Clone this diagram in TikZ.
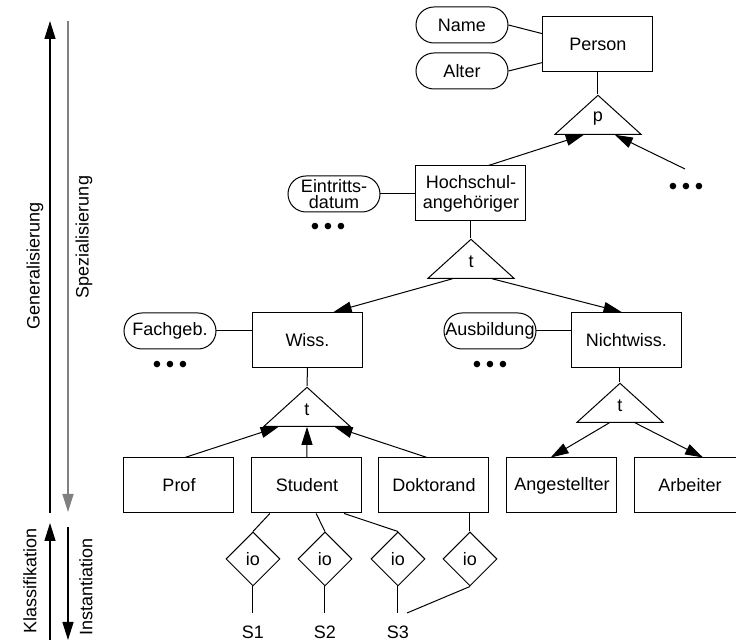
\documentclass[tikz,border=0pt]{standalone}
\usepackage{fontspec}
\setmainfont{Liberation Sans}
\usetikzlibrary{arrows.meta,calc,shapes.geometric}
\tikzset{
  >={Triangle[length=9pt,width=5.5pt]},
  every node/.style={font=\fontsize{9}{10}\selectfont},
  entity/.style={draw,line width=0.5pt,minimum width=55pt,minimum height=27.5pt,align=center,inner sep=1pt},
  attr/.style={draw,line width=0.5pt,rounded corners=9pt,minimum width=46pt,minimum height=18pt,align=center,inner sep=0pt},
  isa/.style={draw,line width=0.5pt,isosceles triangle,shape border rotate=90,isosceles triangle stretches,minimum width=43pt,minimum height=19.5pt,inner sep=0pt,anchor=apex},
  inst/.style={draw,line width=0.5pt,diamond,minimum width=27pt,minimum height=27pt,inner sep=0pt},
  more/.style={inner sep=0pt,font=\fontsize{12}{12}\selectfont},
  obj/.style={inner sep=1pt},
  link/.style={line width=0.5pt},
  arrow/.style={->,line width=0.5pt},
  axis/.style={->,line width=0.7pt}
}
\newcommand{\moredots}{•\hspace{2.3pt}•\hspace{2.3pt}•}
\begin{document}
\begin{tikzpicture}[x=0.5pt,y=-0.5pt]
  \useasboundingbox (0,0) rectangle (736,640);

  \node[entity] (person) at (598,44.5) {Person};
  \node[attr] (name) at (462,25) {Name};
  \node[attr] (alter) at (462,71) {Alter};
  \node[isa] (p) at (598,94) {p};
  \draw[link] (name.east) -- (person.169);
  \draw[link] (alter.east) -- (person.198);
  \draw[link] (person.south) -- (p.apex);

  \node[entity] (hsa) at (471,193.5) {Hochschul-\\angehöriger};
  \node[attr,font=\fontsize{9}{8}\selectfont] (eintritt) at (334,194) {Eintritts-\\datum};
  \node[more] (dotsA) at (328,229) {\moredots};
  \node[more] (dotsB) at (686,189) {\moredots};
  \coordinate (other) at (685,169);
  \draw[arrow] (hsa.58) -- ($(p.left corner)!0.34!(p.right corner)$);
  \draw[arrow] (other) -- ($(p.left corner)!0.69!(p.right corner)$);
  \draw[link] (eintritt.east) -- (hsa.west |- eintritt.east);

  \node[isa] (t1) at (471,238) {t};
  \draw[link] (hsa.south) -- (t1.apex);
  \node[entity] (wiss) at (307.5,340) {Wiss.};
  \node[entity] (nwiss) at (626.5,340) {Nichtwiss.};
  \draw[arrow] ($(t1.left corner)!0.29!(t1.right corner)$) -- (wiss.47);
  \draw[arrow] ($(t1.left corner)!0.74!(t1.right corner)$) -- (nwiss.100);
  \node[attr] (fach) at (170,331) {Fachgeb.};
  \node[attr] (ausb) at (490,331) {Ausbildung};
  \node[more] (dotsC) at (170,367) {\moredots};
  \node[more] (dotsD) at (490,367) {\moredots};
  \draw[link] (fach.east) -- (wiss.west |- fach.east);
  \draw[link] (ausb.east) -- (nwiss.west |- ausb.east);

  \node[isa] (t2) at (307,386) {t};
  \node[isa] (t3) at (620,382) {t};
  \draw[link] (wiss.south) -- (t2.apex);
  \draw[link] (nwiss.south -| t3.apex) -- (t3.apex);
  \node[entity] (prof) at (179,485.5) {Prof};
  \node[entity] (stud) at (307,485.5) {Student};
  \node[entity] (dokt) at (434,485.5) {Doktorand};
  \node[entity] (angest) at (562,485.5) {Angestellter};
  \node[entity] (arb) at (690,485.5) {Arbeiter};
  \draw[arrow] (prof.78) -- ($(t2.left corner)!0.18!(t2.right corner)$);
  \draw[arrow] (stud.north) -- ($(t2.left corner)!0.5!(t2.right corner)$);
  \draw[arrow] (dokt.104) -- ($(t2.left corner)!0.81!(t2.right corner)$);
  \draw[arrow] ($(t3.left corner)!0.38!(t3.right corner)$) -- (angest.112);
  \draw[arrow] ($(t3.left corner)!0.67!(t3.right corner)$) -- (arb.65);

  \node[inst] (io1) at (253,559) {io};
  \node[inst] (io2) at (325,559) {io};
  \node[inst] (io3) at (398,559) {io};
  \node[inst] (io4) at (470,559) {io};
  \draw[link] (stud.217) -- (io1.north);
  \draw[link] (stud.288) -- (io2.north);
  \draw[link] (stud.323) -- (io3.north);
  \draw[link] (dokt.south -| io4.north) -- (io4.north);
  \node[obj] (s1) at (253,632) {S1};
  \node[obj] (s2) at (325,632) {S2};
  \node[obj] (s3) at (398,632) {S3};
  \coordinate (s1top) at (253,613);
  \coordinate (s2top) at (325,613);
  \coordinate (s3top) at (398,613);
  \coordinate (s3side) at (407,613);
  \draw[link] (io1.south) -- (s1top);
  \draw[link] (io2.south) -- (s2top);
  \draw[link] (io3.south) -- (s3top);
  \draw[link] (io4.south) -- (s3side);

  \coordinate (gen0) at (50,513);
  \coordinate (gen1) at (50,21);
  \coordinate (spez0) at (68,21);
  \coordinate (spez1) at (68,512);
  \coordinate (kla0) at (50,640);
  \coordinate (kla1) at (50,523);
  \coordinate (ins0) at (68,527);
  \coordinate (ins1) at (68,640);
  \draw[axis] (gen0) -- (gen1);
  \draw[axis,gray] (spez0) -- (spez1);
  \draw[axis] (kla0) -- (kla1);
  \draw[axis] (ins0) -- (ins1);
  \node[rotate=90] (gen) at (35,266) {Generalisierung};
  \node[rotate=90] (spez) at (84,237) {Spezialisierung};
  \node[rotate=90] (kla) at (30,581) {Klassifikation};
  \node[rotate=90] (ins) at (86,587) {Instantiation};
\end{tikzpicture}
\end{document}
